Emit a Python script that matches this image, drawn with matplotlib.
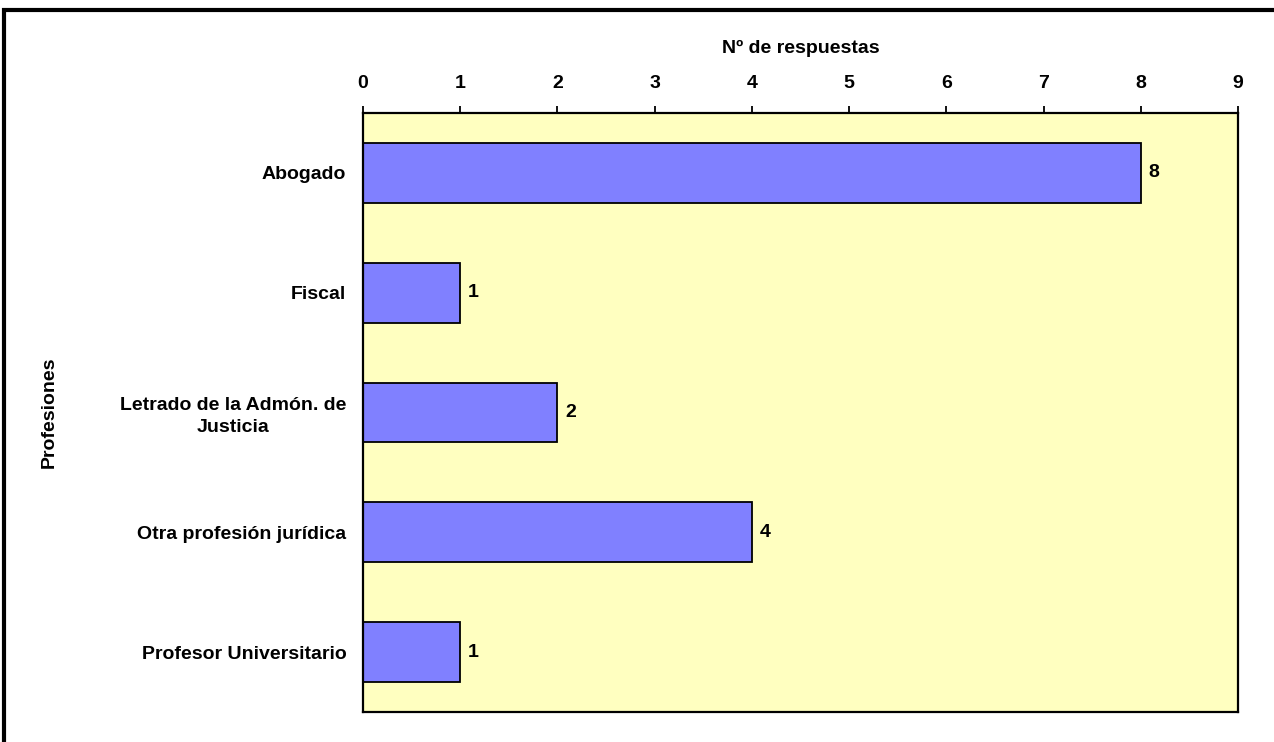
import matplotlib
matplotlib.use("Agg")
import matplotlib.pyplot as plt
from matplotlib.patches import Rectangle

# data
profesiones = ["Abogado", "Fiscal", "Letrado de la Admón. de\nJusticia",
               "Otra profesión jurídica", "Profesor Universitario"]
respuestas = [8, 1, 2, 4, 1]
ticks = list(range(0, 10))

plt.rcParams['font.family'] = ['Liberation Sans', 'DejaVu Sans']
plt.rcParams['font.weight'] = 'bold'
fs = 14

fig = plt.figure(figsize=(12.74, 7.42), dpi=100)
ax = fig.add_axes([363/1274, 1 - 712/742, (1238-363)/1274, (712-113)/742])
ax.set_facecolor('#FFFFC0')

ypos = list(range(len(profesiones)))
ax.barh(ypos, respuestas, height=0.5, color='#8080FF', edgecolor='black', linewidth=1.3)
for y, v in zip(ypos, respuestas):
    ax.text(v + 0.08, y, str(v), va='center', ha='left', fontsize=fs, fontweight='bold')

ax.set_xlim(0, 9)
ax.set_ylim(len(profesiones) - 0.5, -0.5)
ax.set_xticks(ticks)
ax.xaxis.tick_top()
ax.xaxis.set_label_position('top')
ax.tick_params(axis='x', length=5, width=1.3, labelsize=fs, pad=10)
ax.tick_params(axis='y', length=0, labelsize=fs, pad=12)
ax.set_yticks(ypos)
ax.set_yticklabels(profesiones, ha='right', multialignment='center', linespacing=1.35)
ax.set_xlabel("Nº de respuestas", fontsize=fs, fontweight='bold', labelpad=16)
ax.set_ylabel("Profesiones", fontsize=fs, fontweight='bold')
ax.yaxis.set_label_coords(-0.349, 0.5)
for s in ax.spines.values():
    s.set_linewidth(1.6)

# outer border
fig.patches.append(Rectangle((4/1274, -0.05), 1.2, 1 - 10/742 + 0.05, transform=fig.transFigure,
                             fill=False, edgecolor='black', linewidth=3))

fig.savefig("out.png", dpi=100)
